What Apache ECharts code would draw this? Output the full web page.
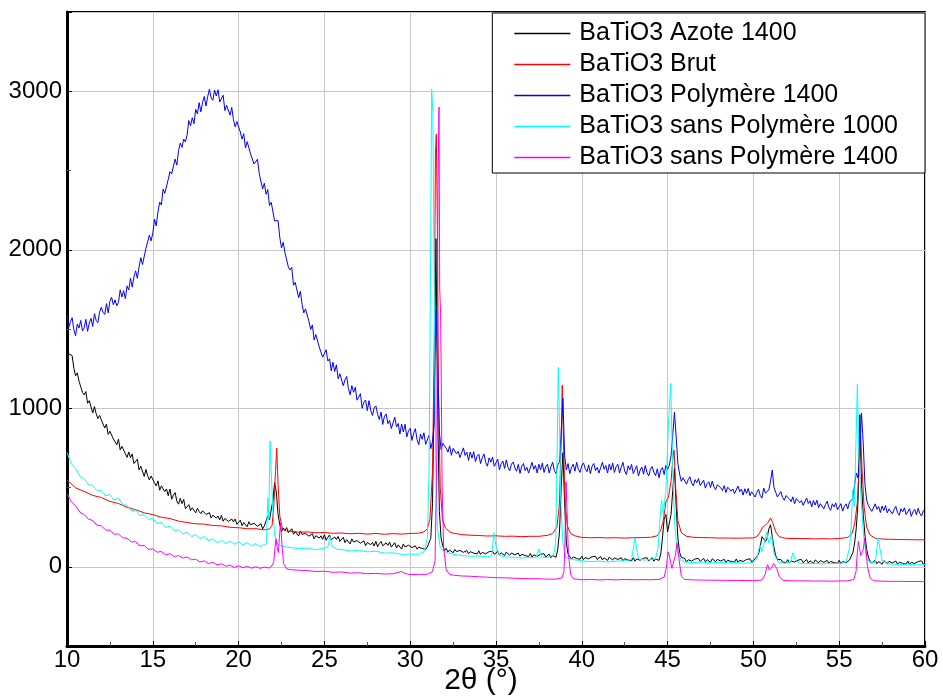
<!DOCTYPE html>
<html><head><meta charset="utf-8">
<script src="https://cdn.jsdelivr.net/npm/echarts@6/dist/echarts.min.js"></script>
<style>html,body{margin:0;padding:0;background:#fff;overflow:hidden}#c{width:943px;height:698px}</style>
</head><body><div id="c"></div>
<script>
const seriesNames = ['BaTiO3 Azote 1400','BaTiO3 Brut','BaTiO3 Polymère 1400','BaTiO3 sans Polymère 1000','BaTiO3 sans Polymère 1400'];
const xTicks = [10,15,20,25,30,35,40,45,50,55,60];
const yTicks = [0,1000,2000,3000];

// Noisy scans (Azote 1400, Polymère 1400): intensities read on the 0.1° scan grid, 10° → 60°
const scanStart = 10, scanStep = 0.1;
const azote1400Y = [
1434,1343,1342,1332,1251,1205,1223,1171,1178,1101,
1084,1105,1031,1048,1039,970,1010,965,935,955,
955,900,875,900,835,855,861,807,818,769,
805,737,759,771,713,690,724,688,712,651,
650,678,611,634,632,570,614,574,548,573,
577,529,510,542,483,510,522,474,491,448,
490,426,452,468,414,395,432,398,425,366,
372,392,355,372,374,340,369,348,335,353,
358,330,321,341,308,325,334,307,320,296,
323,287,305,316,286,277,301,283,301,268,
271,294,259,279,283,252,284,265,254,274,
282,256,248,271,239,258,269,320,295,300,
420,530,470,330,265,220,245,228,247,215,
219,240,205,223,227,194,225,204,193,211,
218,193,185,208,176,196,207,181,195,173,
202,167,186,200,171,163,188,172,191,160,
164,186,152,171,176,144,176,156,146,165,
173,148,141,164,133,153,164,139,153,131,
160,126,146,160,132,125,151,135,155,124,
129,152,118,138,143,112,144,125,116,136,
138,121,116,132,111,124,132,115,125,110,
125,135,180,400,1100,2070,1000,350,180,130,
101,116,93,106,109,88,109,96,90,103,
108,91,87,102,82,95,102,86,95,81,
100,78,91,101,82,78,95,85,98,78,
82,97,75,88,92,71,92,80,73,87,
92,75,71,86,66,79,86,70,79,65,
84,61,75,84,66,61,79,68,82,61,
65,80,57,71,74,60,110,220,500,720,
400,150,80,69,48,62,69,52,62,47,
67,45,58,68,50,45,63,53,66,46,
49,65,43,56,60,40,61,49,42,56,
62,46,41,57,37,51,58,42,52,37,
57,35,49,59,41,36,54,44,57,37,
41,57,35,49,52,40,80,180,300,330,
220,220,330,480,620,380,180,90,60,48,
52,30,44,54,36,31,49,39,53,33,
37,53,31,45,49,28,50,38,32,46,
52,36,32,47,27,41,49,33,43,29,
49,27,41,51,33,28,46,36,50,30,
34,50,55,80,130,190,200,160,180,240,
265,190,120,70,45,38,46,30,40,26,
45,23,37,47,29,24,42,32,46,26,
30,46,24,38,42,21,43,31,25,39,
44,28,24,40,20,34,42,26,36,22,
41,19,33,43,25,22,42,50,90,150,
250,420,960,520,330,200,110,60,35,22,
25,41,19,33,37,16,38,26,20,34,
40,24,20,36,16,29,37,21,31,17,
36,14,28,38,20,16,33,23,37,17,
21];

const polymere1400Y = [
1590,1509,1547,1571,1494,1458,1532,1506,1554,1488,
1507,1561,1485,1538,1567,1516,1597,1553,1540,1606,
1637,1605,1592,1660,1602,1675,1701,1653,1684,1646,
1667,1747,1702,1742,1692,1772,1746,1820,1764,1828,
1867,1820,1892,1950,1907,1905,2009,2013,2092,2056,
2105,2193,2150,2238,2300,2283,2382,2356,2360,2444,
2493,2479,2486,2572,2534,2625,2673,2646,2698,2681,
2724,2815,2782,2833,2795,2886,2857,2928,2870,2931,
2967,2907,2967,3013,2958,2943,3007,2970,3009,2932,
2941,2975,2878,2912,2920,2849,2898,2822,2775,2809,
2808,2743,2698,2732,2642,2682,2681,2604,2608,2541,
2535,2571,2482,2478,2384,2420,2350,2380,2279,2299,
2294,2182,2191,2184,2078,2011,2047,1983,1995,1891,
1872,1889,1776,1794,1786,1698,1739,1655,1601,1627,
1618,1547,1497,1526,1431,1465,1463,1386,1389,1322,
1315,1369,1298,1312,1236,1290,1232,1274,1186,1218,
1225,1142,1179,1201,1123,1085,1143,1101,1133,1051,
1054,1092,1000,1039,1052,985,1048,986,954,1002,
1015,962,929,976,898,950,964,903,923,872,
881,944,882,904,837,900,850,899,819,858,
873,797,842,871,801,770,837,804,845,772,
784,830,745,791,900,1616,1283,850,740,779,
787,747,723,763,703,747,759,712,728,689,
697,750,702,723,671,724,685,726,664,697,
710,651,688,712,657,634,687,660,692,633,
642,679,612,650,667,620,674,628,605,647,
661,624,603,646,589,635,651,607,627,591,
603,659,615,639,591,647,611,655,595,631,
647,591,631,659,607,587,643,660,850,1063,
700,611,651,587,627,647,603,659,615,595,
639,655,619,599,643,587,635,651,607,627,
591,603,659,615,639,591,647,611,655,595,
631,647,591,631,659,604,582,637,611,646,
588,599,637,572,610,629,584,639,594,573,
616,632,595,575,618,562,610,626,582,640,
615,640,700,830,975,818,650,585,539,561,
565,521,549,568,527,510,550,530,556,512,
519,546,496,523,536,500,540,504,487,517,
527,498,481,512,468,502,512,477,491,462,
469,509,474,490,452,492,463,494,448,473,
483,440,469,489,449,433,497,465,455,485,
540,610,500,470,440,435,474,438,419,449,
458,428,411,441,397,430,440,404,417,387,
394,434,399,416,378,418,389,420,373,398,
408,365,393,413,372,356,397,377,403,360,
368,398,351,381,397,365,408,400,430,520,
591,560,720,969,780,520,420,385,377,349,
356,397,363,380,342,383,355,386,340,365,
376,333,362,381,341,325,366,347,372,329,
337,366,318,347,362,328,369,336,320,353,
364];

// Smoother scans: [2θ, intensity] points
const brut = [[10.0,548],[10.5,498],[11.0,475],[11.5,450],[12.0,437],[12.5,412],[13.0,399],[13.5,375],[14.0,360],[14.5,340],[15.0,329],[15.5,312],[16.0,304],[16.5,288],[17.0,279],[17.5,271],[18.0,269],[18.5,260],[19.0,258],[19.5,249],[20.0,246],[20.5,240],[21.0,240],[21.5,233],[21.8,238],
[21.95,260],[22.05,380],[22.15,600],[22.22,748],[22.30,520],[22.40,320],[22.55,240],[22.8,226],
[23.0,224],[23.5,218],[24.0,220],[24.5,214],[25.0,216],[25.5,211],[26.0,213],[26.5,208],[27.0,211],[27.5,206],[28.0,210],[28.5,205],[29.0,209],[29.5,206],[30.0,210],[30.5,212],[30.8,220],
[31.0,240],[31.15,300],[31.30,600],[31.40,1400],[31.47,2600],[31.52,2729],[31.58,2200],[31.65,1100],[31.75,500],[31.88,300],[32.05,245],[32.3,220],
[32.5,212],[33.0,203],[33.5,199],[34.0,197],[34.5,194],[35.0,195],[35.5,192],[36.0,193],[36.5,190],[37.0,192],[37.5,192],[38.0,198],[38.3,210],
[38.55,250],[38.70,400],[38.80,800],[38.86,1145],[38.93,800],[39.02,420],[39.15,260],[39.35,210],[39.6,195],
[40.0,185],[40.5,183],[41.0,184],[41.5,182],[42.0,183],[42.5,181],[43.0,183],[43.5,184],[44.0,186],[44.4,195],
[44.60,230],[44.75,290],[44.90,410],[45.05,440],[45.20,540],[45.32,700],[45.38,736],[45.47,500],[45.60,290],[45.80,215],[46.1,192],
[46.5,186],[47.0,184],[47.5,183],[48.0,181],[48.5,181],[49.0,180],[49.5,181],[50.0,182],[50.2,190],
[50.40,220],[50.55,250],[50.70,262],[50.85,280],[51.00,308],[51.12,280],[51.30,220],[51.50,190],[51.8,181],
[52.0,179],[52.5,178],[53.0,178],[53.5,176],[54.0,177],[54.5,176],[55.0,178],[55.5,185],
[55.75,210],[55.90,270],[56.05,400],[56.18,650],[56.25,830],[56.33,620],[56.45,380],[56.60,250],[56.80,200],[57.1,180],
[57.5,175],[58.0,173],[58.5,172],[59.0,171],[59.5,170],[60.0,170]];

const sansPolymere1000 = [[10.0,720],[10.25,650],[10.5,620],[10.75,570],[11.0,555],[11.25,520],[11.5,512],[11.75,480],
[12.0,480],[12.25,448],[12.5,455],[12.75,420],[13.0,432],[13.25,392],[13.5,388],[13.75,352],[14.0,358],[14.25,322],[14.5,330],[14.75,298],[15.0,305],[15.25,272],[15.5,280],[15.75,248],[16.0,256],[16.25,226],[16.5,234],[16.75,206],[17.0,218],[17.25,190],[17.5,203],[17.75,178],[18.0,190],[18.25,165],[18.5,176],[18.75,152],[19.0,166],[19.25,146],[19.5,162],[19.75,142],[20.0,158],[20.25,138],[20.5,152],[20.75,132],[21.0,146],[21.25,128],[21.5,140],
[21.62,145],[21.70,434],[21.76,300],[21.83,792],[21.90,600],[22.00,350],[22.10,200],[22.30,140],[22.60,128],
[23.0,122],[23.5,113],[24.0,118],[24.5,108],[25.0,118],[25.2,125],[25.33,189],[25.45,130],[25.7,112],[26.0,108],[26.5,100],[27.0,104],[27.5,94],[28.0,98],[28.5,86],[29.0,88],[29.5,78],[30.0,80],[30.5,78],[30.8,95],
[31.00,180],[31.10,600],[31.18,1800],[31.25,3012],[31.32,2862],[31.40,1800],[31.48,700],[31.58,250],[31.75,120],[32.0,95],
[32.5,78],[33.0,72],[33.5,66],[34.0,68],[34.5,62],[34.75,70],[34.88,214],[35.0,130],[35.2,72],[35.5,62],[36.0,60],[36.5,55],[37.0,58],[37.35,60],[37.5,113],[37.65,62],[38.0,58],[38.35,75],
[38.48,150],[38.56,700],[38.63,1258],[38.70,900],[38.78,400],[38.90,150],[39.05,60],[39.5,45],
[40.0,38],[40.5,32],[41.0,36],[41.5,30],[42.0,35],[42.5,38],[42.9,45],[43.1,182],[43.3,52],[43.6,42],[44.0,45],[44.3,55],
[44.45,120],[44.55,300],[44.65,421],[44.75,330],[44.90,480],[45.05,900],[45.18,1157],[45.28,700],[45.40,300],[45.55,100],[45.80,40],
[46.0,30],[46.5,26],[47.0,30],[47.5,24],[48.0,28],[48.5,24],[49.0,27],[49.5,22],[50.0,26],[50.2,50],
[50.30,100],[50.38,138],[50.50,95],[50.65,160],[50.77,220],[50.90,150],[51.06,200],[51.20,80],[51.45,30],
[51.8,22],[52.15,28],[52.3,88],[52.45,40],[52.7,22],[53.0,20],[53.5,22],[54.0,18],[54.5,21],[55.0,20],[55.4,30],
[55.60,120],[55.70,250],[55.78,484],[55.88,380],[55.98,800],[56.06,1151],[56.15,700],[56.28,420],[56.42,200],[56.58,60],[56.80,25],
[57.1,26],[57.27,182],[57.38,110],[57.5,40],[57.8,18],[58.0,17],[58.5,15],[59.0,16],[59.5,12],[60.0,13]];

const sansPolymere1400 = [[10.0,460],[10.25,410],[10.5,385],[10.75,345],[11.0,330],[11.25,300],[11.5,292],[11.75,262],
[12.0,258],[12.25,232],[12.5,230],[12.75,205],[13.0,207],[13.25,182],[13.5,180],[13.75,156],[14.0,158],[14.25,132],[14.5,134],[14.75,110],[15.0,113],[15.25,92],[15.5,96],[15.75,76],[16.0,82],[16.25,64],[16.5,70],[16.75,55],[17.0,62],[17.25,44],[17.5,48],[17.75,30],[18.0,37],[18.25,20],[18.5,28],[18.75,12],[19.0,19],[19.25,3],[19.5,10],[19.75,-4],[20.0,6],[20.25,-6],[20.5,2],[20.75,-9],[21.0,0],[21.25,-10],[21.5,-2],[21.75,-8],[21.9,0],
[22.05,30],[22.12,120],[22.18,176],[22.25,120],[22.32,90],[22.40,220],[22.45,277],[22.52,150],[22.62,20],[22.80,-12],
[23.0,-18],[23.5,-22],[24.0,-24],[24.5,-30],[25.0,-28],[25.5,-35],[26.0,-33],[26.5,-40],[27.0,-38],[27.5,-44],[28.0,-42],[28.5,-46],[29.0,-44],[29.5,-30],[29.7,-42],[30.0,-50],[30.5,-48],[31.0,-48],[31.3,-30],
[31.45,40],[31.55,700],[31.62,2400],[31.68,2900],[31.72,1761],[31.77,1600],[31.80,1302],[31.86,500],[31.95,120],[32.10,-20],[32.3,-48],
[32.5,-53],[33.0,-58],[33.5,-60],[34.0,-63],[34.5,-66],[35.0,-69],[35.5,-70],[36.0,-72],[36.5,-74],[37.0,-75],[37.5,-76],[38.0,-78],[38.5,-78],[38.85,-70],
[38.96,-30],[39.02,150],[39.08,535],[39.14,350],[39.22,80],[39.35,-50],[39.5,-76],
[40.0,-82],[40.5,-80],[41.0,-83],[41.5,-81],[42.0,-83],[42.5,-80],[43.0,-82],[43.5,-81],[44.0,-82],[44.5,-80],[44.8,-65],
[44.92,-10],[45.03,94],[45.12,60],[45.25,-10],[45.35,-5],[45.45,70],[45.55,151],[45.65,60],[45.80,-60],[46.0,-80],
[46.5,-83],[47.0,-84],[47.5,-85],[48.0,-85],[48.5,-86],[49.0,-86],[49.5,-87],[50.0,-88],[50.5,-84],
[50.68,-50],[50.78,0],[50.83,13],[50.92,-20],[51.05,-10],[51.18,20],[51.26,31],[51.36,-10],[51.5,-60],[51.7,-85],
[52.0,-88],[52.5,-89],[53.0,-89],[53.5,-90],[54.0,-90],[54.5,-91],[55.0,-90],[55.5,-89],[55.85,-80],
[55.98,-30],[56.05,80],[56.12,160],[56.17,170],[56.25,70],[56.32,60],[56.40,107],[56.48,180],[56.55,120],[56.65,0],[56.80,-70],[57.0,-88],
[57.5,-91],[58.0,-92],[58.5,-92],[59.0,-93],[59.5,-93],[60.0,-94]];

const onScanGrid = ys => ys.map((v, i) => [+(scanStart + i * scanStep).toFixed(2), v]);
const seriesData = [onScanGrid(azote1400Y), brut, onScanGrid(polymere1400Y), sansPolymere1000, sansPolymere1400];
const colors = ['#000000','#ff0000','#0000ff','#00ffff','#ff00ff'];

const chart = echarts.init(document.getElementById('c'), null, {renderer:'canvas'});
const FONT = 'Liberation Sans, Arial, sans-serif';
chart.setOption({
  animation: false,
  backgroundColor: '#ffffff',
  color: colors,
  grid: {left: 67, right: 18, top: 12, bottom: 52, containLabel: false, outerBoundsMode: 'none',
         show: true, borderColor: '#000', borderWidth: 2, backgroundColor: 'transparent'},
  legend: {
    orient: 'vertical', right: 18, top: 13,
    backgroundColor: '#fff', borderColor: '#000', borderWidth: 1, borderRadius: 0,
    padding: [5, 27, 0, 22],
    icon: 'rect', itemWidth: 56, itemHeight: 1.5, itemGap: 0,
    textStyle: {fontFamily: FONT, fontSize: 25, lineHeight: 31, color: '#000', padding: [0,0,0,4]},
    data: seriesNames
  },
  xAxis: {
    type: 'value', min: 10, max: 60, interval: 5,
    name: '2θ (°)', nameLocation: 'middle', nameGap: 20, nameMoveOverlap: false,
    nameTextStyle: {fontFamily: FONT, fontSize: 30, color: '#000', verticalAlign: 'top', padding: [0, 30, 0, 0]},
    axisLine: {onZero: false, lineStyle: {color: '#000', width: 3}},
    axisTick: {show: true, inside: true, length: 5, lineStyle: {color: '#000'}},
    minorTick: {show: true, splitNumber: 2, length: 4, lineStyle: {color: '#555'}},
    axisLabel: {fontFamily: FONT, fontSize: 24, color: '#000', margin: 2,
      formatter: v => xTicks.includes(v) ? String(v) : ''},
    splitLine: {show: true, lineStyle: {color: '#c8c8c8', width: 1}}
  },
  yAxis: {
    type: 'value', min: -500, max: 3500, splitNumber: 4,
    axisLine: {show: true, onZero: false, lineStyle: {color: '#000', width: 3}},
    axisTick: {show: true, inside: true, length: 5, lineStyle: {color: '#000'}},
    minorTick: {show: true, splitNumber: 2, length: 4, lineStyle: {color: '#555'}},
    axisLabel: {fontFamily: FONT, fontSize: 24, color: '#000', margin: 5, showMinLabel: false, showMaxLabel: false,
      formatter: v => yTicks.includes(v) ? String(v) : ''},
    splitLine: {show: true, lineStyle: {color: '#c8c8c8', width: 1}}
  },
  series: seriesNames.map((n, i) => ({
    name: n, type: 'line', data: seriesData[i], showSymbol: false, symbol: 'none',
    sampling: null, lineStyle: {width: 1, color: colors[i]}, itemStyle: {color: colors[i]},
    z: 2 + i
  }))
});
</script></body></html>
